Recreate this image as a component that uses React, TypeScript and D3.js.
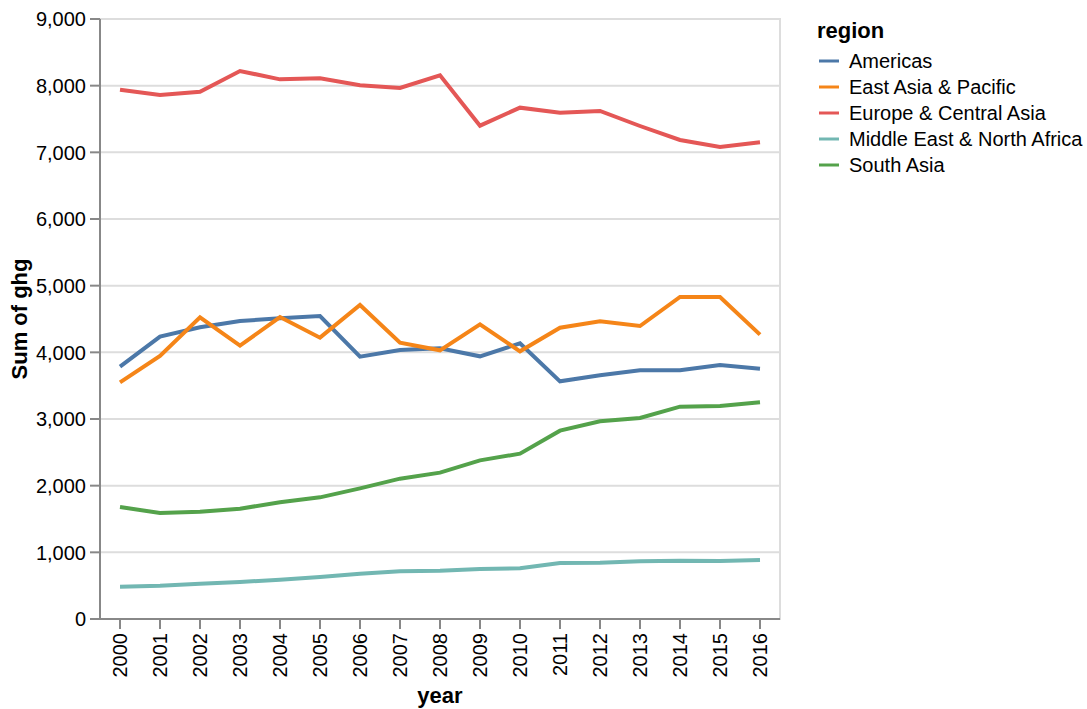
import React from 'react';
import * as d3 from 'd3';

const years = [2000, 2001, 2002, 2003, 2004, 2005, 2006, 2007, 2008, 2009, 2010, 2011, 2012, 2013, 2014, 2015, 2016];
const regions = ['Americas', 'East Asia & Pacific', 'Europe & Central Asia', 'Middle East & North Africa', 'South Asia'];
const colors = ['#4c78a8', '#f58518', '#e45756', '#72b7b2', '#54a24b'];

const americas = [3785, 4235, 4375, 4470, 4510, 4545, 3935, 4035, 4060, 3940, 4135, 3565, 3655, 3730, 3730, 3810, 3755];
const eastAsia = [3550, 3945, 4525, 4100, 4530, 4220, 4710, 4145, 4030, 4420, 4015, 4370, 4465, 4395, 4830, 4830, 4265];
const europe = [7940, 7860, 7910, 8220, 8095, 8110, 8005, 7965, 8155, 7400, 7670, 7595, 7620, 7395, 7185, 7080, 7150];
const mena = [485, 500, 530, 555, 590, 630, 680, 715, 725, 750, 760, 840, 845, 865, 875, 870, 885];
const southAsia = [1680, 1590, 1610, 1655, 1750, 1825, 1960, 2105, 2195, 2380, 2480, 2825, 2965, 3015, 3185, 3195, 3250];

const seriesValues = [americas, eastAsia, europe, mena, southAsia];
const yTicks = [0, 1000, 2000, 3000, 4000, 5000, 6000, 7000, 8000, 9000];

const font = '"Liberation Sans", Arial, Helvetica, sans-serif';

export default function App() {
  const W = 1087;
  const H = 709;
  const left = 100, right = 780, top = 19, bottom = 619;

  const x = d3.scalePoint<number>().domain(years).range([left, right]).padding(0.5);
  const y = d3.scaleLinear().domain([0, 9000]).range([bottom, top]);
  const fmt = d3.format(',');

  const line = d3.line<number>()
    .x((_, i) => x(years[i]) as number)
    .y((d) => y(d));

  return (
    <div>
      <style>{'body{margin:0}'}</style>
      <svg width={W} height={H} style={{ display: 'block', fontFamily: font }}>
        <rect x={0} y={0} width={W} height={H} fill="white" />
        {/* grid */}
        {yTicks.map((t) => (
          <line key={'g' + t} x1={left} x2={right} y1={y(t)} y2={y(t)} stroke="#ddd" strokeWidth={2} />
        ))}
        {/* view border */}
        <rect x={left} y={top} width={right - left} height={bottom - top} fill="none" stroke="#ddd" strokeWidth={2} />

        {/* lines */}
        {seriesValues.map((vals, i) => (
          <path key={regions[i]} d={line(vals) || ''} fill="none" stroke={colors[i]} strokeWidth={4} strokeLinejoin="miter" />
        ))}

        {/* y axis */}
        <line x1={left} x2={left} y1={top} y2={bottom} stroke="#888" strokeWidth={2} />
        {yTicks.map((t) => (
          <g key={'y' + t}>
            <line x1={left - 10} x2={left} y1={y(t)} y2={y(t)} stroke="#888" strokeWidth={2} />
            <text x={left - 14} y={y(t)} dy="0.36em" textAnchor="end" fontSize={20} fill="#000">{fmt(t)}</text>
          </g>
        ))}
        <text transform={`translate(27,${(top + bottom) / 2}) rotate(-90)`} textAnchor="middle" fontSize={22} fontWeight="bold" fill="#000">Sum of ghg</text>

        {/* x axis */}
        <line x1={left} x2={right} y1={bottom} y2={bottom} stroke="#888" strokeWidth={2} />
        {years.map((yr) => (
          <g key={'x' + yr}>
            <line x1={x(yr)} x2={x(yr)} y1={bottom} y2={bottom + 10} stroke="#888" strokeWidth={2} />
            <text transform={`translate(${(x(yr) as number) + 7},${bottom + 14}) rotate(-90)`} textAnchor="end" fontSize={20} fill="#000">{yr}</text>
          </g>
        ))}
        <text x={(left + right) / 2} y={703} textAnchor="middle" fontSize={22} fontWeight="bold" fill="#000">year</text>

        {/* legend */}
        <text x={817} y={38} fontSize={22} fontWeight="bold" fill="#000">region</text>
        {regions.map((r, i) => (
          <g key={'l' + r} transform={`translate(0,${61 + i * 26})`}>
            <line x1={819} x2={839} y1={0} y2={0} stroke={colors[i]} strokeWidth={3} />
            <text x={849} y={0} dy="0.36em" fontSize={20} fill="#000">{r}</text>
          </g>
        ))}
      </svg>
    </div>
  );
}
